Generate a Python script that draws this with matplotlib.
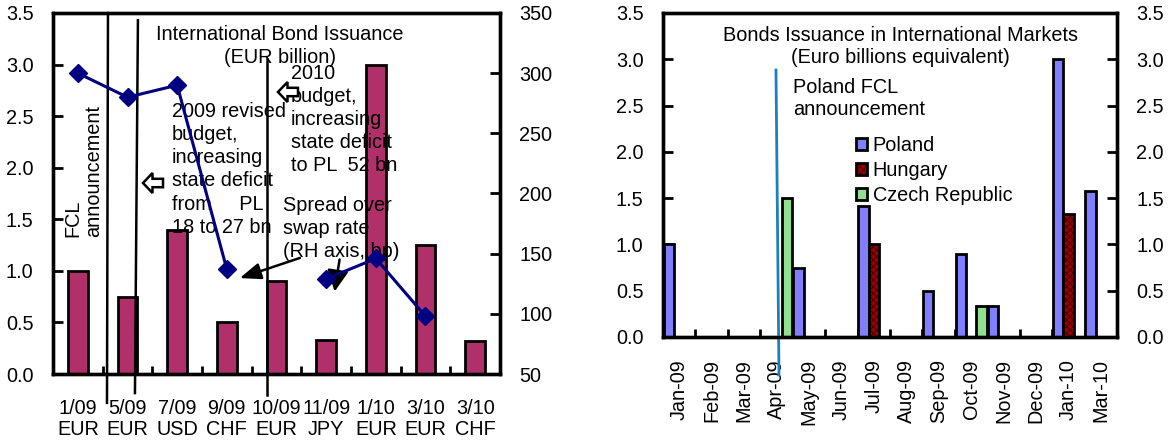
import matplotlib
matplotlib.use("Agg")
import matplotlib.pyplot as plt
import numpy as np
from matplotlib.patches import Polygon
from matplotlib.lines import Line2D
from matplotlib.legend_handler import HandlerTuple

plt.rcParams['font.family'] = ['Liberation Sans', 'DejaVu Sans']
plt.rcParams['font.size'] = 14.3
plt.rcParams['hatch.linewidth'] = 0.7

# ---- data: Polish issues (left panel) ----
issue_labels = ['1/09\nEUR', '5/09\nEUR', '7/09\nUSD', '9/09\nCHF', '10/09\nEUR',
                '11/09\nJPY', '1/10\nEUR', '3/10\nEUR', '3/10\nCHF']
issue_amounts = [1.0, 0.75, 1.4, 0.5, 0.9, 0.33, 3.0, 1.25, 0.32]      # EUR billion
swap_spread = [300, 280, 290, 137, np.nan, 129, 146, 98, np.nan]       # bp, RH axis

# ---- data: regional issuance (right panel) ----
months = ['Jan-09', 'Feb-09', 'Mar-09', 'Apr-09', 'May-09', 'Jun-09', 'Jul-09',
          'Aug-09', 'Sep-09', 'Oct-09', 'Nov-09', 'Dec-09', 'Jan-10', 'Mar-10']
poland = [1.0, 0, 0, 0, 0.75, 0, 1.42, 0, 0.5, 0.9, 0.33, 0, 3.0, 1.58]
hungary = [0, 0, 0, 0, 0, 0, 1.0, 0, 0, 0, 0, 0, 1.33, 0]
czech = [0, 0, 0, 1.5, 0, 0, 0, 0, 0, 0.33, 0, 0, 0, 0]

W, H = 1170, 442
fig = plt.figure(figsize=(W / 100, H / 100), dpi=100)

SPINE_W = 2.4
EDGE_W = 2.0


def style_axes(ax):
    for s in ax.spines.values():
        s.set_linewidth(SPINE_W)


def fig_xy(px, py):
    return px / W, 1 - py / H


def hollow_arrow(cx, cy, size=20):
    # left-pointing outlined block arrow, drawn in figure pixels
    h = size / 2
    pts = [(-h, 0), (-h * 0.05, -h), (-h * 0.05, -h * 0.42), (h, -h * 0.42),
           (h, h * 0.42), (-h * 0.05, h * 0.42), (-h * 0.05, h)]
    verts = [fig_xy(cx + dx, cy + dy) for dx, dy in pts]
    fig.patches.append(Polygon(verts, closed=True, facecolor='white', edgecolor='black',
                               linewidth=1.8, transform=fig.transFigure, zorder=10))


# =================== left panel ===================
ax1 = fig.add_axes([53 / W, 1 - 374 / H, (500 - 53) / W, (374 - 13) / H])
style_axes(ax1)
x1 = np.arange(len(issue_labels))
ax1.bar(x1, issue_amounts, width=0.4, color='#B0306A', edgecolor='black',
        linewidth=EDGE_W, zorder=2)
ax1.set_xlim(-0.5, len(issue_labels) - 0.5)
ax1.set_ylim(0, 3.5)
ax1.set_yticks(np.arange(0, 3.51, 0.5))
ax1.set_yticklabels([f'{v:.1f}' for v in np.arange(0, 3.51, 0.5)])
ax1.set_xticks(x1)
ax1.set_xticklabels(issue_labels, linespacing=1.12)
ax1.set_xticks(np.arange(-0.5, len(issue_labels), 1), minor=True)
ax1.tick_params(axis='x', which='major', length=0, pad=18)
ax1.tick_params(axis='x', which='minor', direction='in', length=6, width=2)
ax1.tick_params(axis='y', direction='in', length=7, width=2, pad=14)

ax1r = ax1.twinx()
style_axes(ax1r)
ax1r.set_ylim(50, 350)
ax1r.set_yticks(np.arange(50, 351, 50))
ax1r.tick_params(axis='y', direction='in', length=7, width=2, pad=14)
ax1r.plot(x1, swap_spread, color='#000080', marker='D', markersize=9, linewidth=2.2,
          zorder=5)

# event markers
for (xa, ya), (xb, yb) in [((0.607, 3.5), (0.587, -0.28)),
                           ((1.21, 3.43), (1.15, -0.185)),
                           ((3.806, 3.05), (3.806, -0.205))]:
    ax1.add_line(Line2D([xa, xb], [ya, yb], color='black', linewidth=1.8,
                        clip_on=False, zorder=3))

ax1.text(4.07, 3.38, 'International Bond Issuance\n(EUR billion)', ha='center', va='top',
         linespacing=1.22, zorder=6)
ax1.text(0.104, 1.33, 'FCL\nannouncement', rotation=90, ha='center', va='bottom',
         multialignment='left', linespacing=1.1, zorder=6)
ax1.text(1.894, 2.64, '2009 revised\nbudget,\nincreasing\nstate deficit\nfrom     PL\n18 to 27 bn',
         ha='left', va='top', linespacing=1.28, zorder=6)
ax1.text(4.29, 3.01, '2010\nbudget,\nincreasing\nstate deficit\nto PL  52 bn',
         ha='left', va='top', linespacing=1.28, zorder=6)
ax1.text(4.13, 1.73, 'Spread over\nswap rate\n(RH axis, bp)', ha='left', va='top',
         linespacing=1.28, zorder=6)

ax1.annotate('', xy=(3.26, 0.93), xytext=(4.47, 1.125),
             arrowprops=dict(arrowstyle='-|>,head_length=0.9,head_width=0.35',
                             color='black', lw=1.8, shrinkA=0, shrinkB=0), zorder=7)
ax1.annotate('', xy=(5.17, 0.80), xytext=(5.27, 1.11),
             arrowprops=dict(arrowstyle='-|>,head_length=0.9,head_width=0.45',
                             color='black', lw=1.8, shrinkA=0, shrinkB=0), zorder=7)

hollow_arrow(153, 183)
hollow_arrow(288, 92)

# =================== right panel ===================
ax2 = fig.add_axes([663 / W, 1 - 337 / H, (1117 - 663) / W, 324 / H])
style_axes(ax2)
x2 = np.arange(len(months))
bw = 0.32
handles = []
series = [('Poland', poland, '#8080FF', None, -bw),
          ('Hungary', hungary, '#990000', 'xxxxx', 0.0),
          ('Czech Republic', czech, '#90E090', None, bw)]
for name, vals, col, hatch, off in series:
    vals = np.asarray(vals, dtype=float)
    keep = vals > 0
    if hatch:
        # dark textured fill, then a black outline on top
        fill = ax2.bar(x2[keep] + off, vals[keep], width=bw, color=col,
                       edgecolor='#4A0000', linewidth=0, hatch=hatch, zorder=2)
        outline = ax2.bar(x2[keep] + off, vals[keep], width=bw, fill=False,
                          edgecolor='black', linewidth=EDGE_W, zorder=3)
        handles.append((fill.patches[0], outline.patches[0]))
    else:
        b = ax2.bar(x2[keep] + off, vals[keep], width=bw, color=col, edgecolor='black',
                    linewidth=EDGE_W, zorder=2)
        handles.append(b.patches[0])
ax2.set_xlim(-0.5, len(months) - 0.5)
ax2.set_ylim(0, 3.5)
yt = np.arange(0, 3.51, 0.5)
ax2.set_yticks(yt)
ax2.set_yticklabels([f'{v:.1f}' for v in yt])
ax2.set_xticks(x2)
ax2.set_xticklabels(months, rotation=90)
ax2.set_xticks(np.arange(-0.5, len(months), 1), minor=True)
ax2.tick_params(axis='x', which='major', length=0, pad=16)
ax2.tick_params(axis='x', which='minor', direction='in', length=6, width=2)
ax2.tick_params(axis='y', direction='in', length=7, width=2, pad=14)

ax2r = ax2.twinx()
style_axes(ax2r)
ax2r.set_ylim(0, 3.5)
ax2r.set_yticks(yt)
ax2r.set_yticklabels([f'{v:.1f}' for v in yt])
ax2r.tick_params(axis='y', direction='in', length=7, width=2, pad=14)

ax2.add_line(Line2D([2.984, 3.077], [2.884, -0.41], color='#1A80C0', linewidth=2.0,
                    clip_on=False, zorder=4))
ax2.text(6.81, 3.36, 'Bonds Issuance in International Markets\n(Euro billions equivalent)',
         ha='center', va='top', linespacing=1.22)
ax2.text(3.51, 2.8, 'Poland FCL\nannouncement', ha='left', va='top', linespacing=1.2)

leg = ax2.legend(handles, [s[0] for s in series], loc='upper left',
                 bbox_to_anchor=(0.425, 0.62), frameon=False,
                 handler_map={tuple: HandlerTuple(ndivide=1, pad=0)},
                 handlelength=0.55, handleheight=0.55, handletextpad=0.3,
                 labelspacing=0.3, borderpad=0, borderaxespad=0)

fig.savefig('out.png', dpi=100)
